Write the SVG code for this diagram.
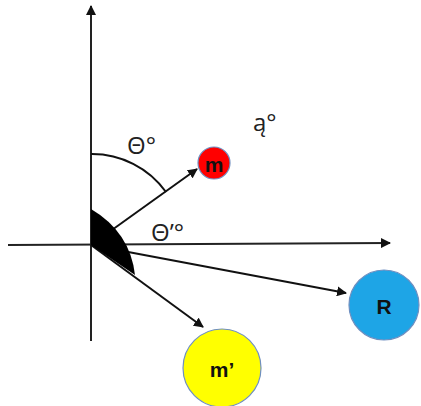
<svg xmlns="http://www.w3.org/2000/svg" width="421" height="406" viewBox="0 0 421 406">
<style>
.ax{stroke:#222;stroke-width:2;fill:none}
.vec{stroke:#111;stroke-width:2;fill:none}
.lbl{font-family:"Open Sans","Liberation Sans",Arial,sans-serif;font-size:24px;fill:#222}
.nl{font-family:"Liberation Sans",Arial,sans-serif;font-size:21px;font-weight:bold;fill:#111;text-anchor:middle;dominant-baseline:central}
.nd{stroke:#6f8fc0;stroke-width:1.2}
</style>
<defs>
<marker id="ah" viewBox="0 0 10 10" refX="9" refY="5" markerWidth="5" markerHeight="5" orient="auto" markerUnits="strokeWidth">
<path d="M0,0 L10,5 L0,10 Z" fill="#111"/>
</marker>
</defs>
<rect width="421" height="406" fill="#fff"/>
<g id="connectors">
<line class="ax" x1="91" y1="341" x2="91" y2="6" marker-end="url(#ah)"/>
<line class="ax" x1="8" y1="245" x2="390" y2="243" marker-end="url(#ah)"/>
<line class="vec" x1="91" y1="245" x2="197" y2="169" marker-end="url(#ah)"/>
<line class="vec" x1="91" y1="245" x2="346" y2="293" marker-end="url(#ah)"/>
<line class="vec" x1="91" y1="245" x2="203" y2="327" marker-end="url(#ah)"/>
<path class="vec" d="M91,154 A91,91 0 0 1 166,192"/>
<path d="M91,209 Q130,232 135,275 L91,245 Z" fill="#000"/>
</g>
<g id="labels">
<text class="lbl" x="127" y="154">Θ°</text>
<text class="lbl" x="151" y="241">Θ’°</text>
<text class="lbl" x="253" y="131">ą°</text>
</g>
<g id="node-m">
<circle class="nd" cx="214" cy="163" r="16" fill="#ff0000"/>
<text class="nl" x="214" y="164">m</text>
</g>
<g id="node-R">
<circle class="nd" cx="384" cy="305" r="35" fill="#1ea5e6"/>
<text class="nl" x="384" y="306">R</text>
</g>
<g id="node-m2">
<circle class="nd" cx="222" cy="368" r="39" fill="#ffff00"/>
<text class="nl" x="222" y="369">m’</text>
</g>
</svg>
